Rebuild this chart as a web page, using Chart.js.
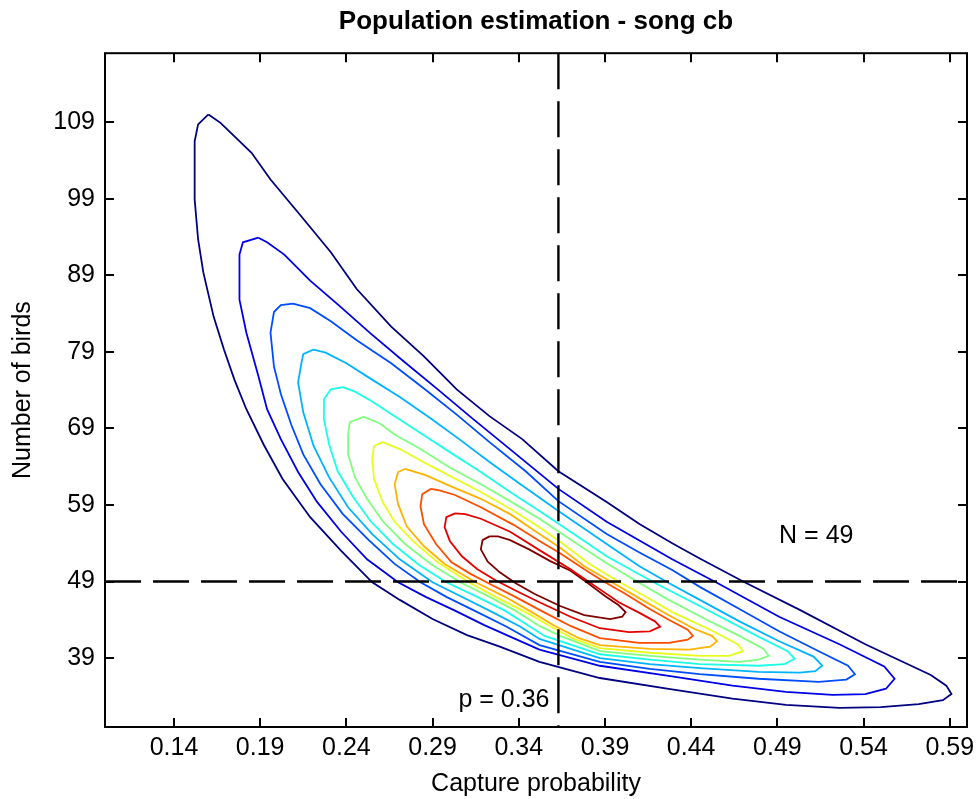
<!DOCTYPE html>
<html>
<head>
<meta charset="utf-8">
<title>Population estimation - song cb</title>
<script src="https://cdn.jsdelivr.net/npm/chart.js@4.4.0/dist/chart.umd.min.js"></script>
<style>
  html, body { margin: 0; padding: 0; background: #fff; }
</style>
</head>
<body>
<canvas id="chart" width="977" height="799"></canvas>
<script>
// axis limits and ticks
const pRange = [0.10, 0.60];
const nRange = [30, 118];
const pTicks = [0.14, 0.19, 0.24, 0.29, 0.34, 0.39, 0.44, 0.49, 0.54, 0.59];
const nTicks = [39, 49, 59, 69, 79, 89, 99, 109];

// point estimates
const pEstimate = 0.363;
const nEstimate = 49;

// where the two labels sit (data units)
const nLabelAt = [0.491, 54.9];
const pLabelAt = [0.305, 33.5];

// contour lines as [capture probability, number of birds], outermost first
const level1 = [[0.160,110.0],[0.154,108.7],[0.152,106.5],[0.152,98.9],[0.154,93.7],[0.157,89.4],[0.163,83.6],[0.169,79.3],[0.175,75.4],[0.182,71.5],[0.192,66.9],[0.203,62.4],[0.219,57.4],[0.237,53.0],[0.255,48.9],[0.271,46.6],[0.290,44.1],[0.310,42.0],[0.329,40.5],[0.352,38.5],[0.387,36.4],[0.426,35.0],[0.464,33.7],[0.495,32.9],[0.526,32.5],[0.550,32.6],[0.572,33.0],[0.586,33.5],[0.591,34.3],[0.588,35.4],[0.579,36.8],[0.541,40.8],[0.503,45.3],[0.471,48.9],[0.445,52.0],[0.429,54.0],[0.410,56.5],[0.391,59.4],[0.363,63.4],[0.342,67.6],[0.323,70.6],[0.304,74.1],[0.285,78.4],[0.266,82.3],[0.246,87.2],[0.231,92.0],[0.212,97.2],[0.196,101.5],[0.185,105.0],[0.167,108.9],[0.160,110.0]];
const level2 = [[0.189,93.9],[0.180,93.3],[0.178,91.7],[0.178,85.8],[0.182,81.5],[0.189,75.8],[0.194,71.5],[0.202,67.6],[0.212,63.3],[0.223,59.4],[0.237,55.5],[0.252,51.9],[0.270,48.9],[0.286,47.0],[0.303,45.2],[0.320,43.3],[0.335,41.8],[0.352,40.1],[0.387,38.0],[0.426,36.7],[0.464,35.4],[0.495,34.6],[0.522,34.2],[0.541,34.3],[0.553,35.0],[0.558,36.3],[0.552,37.9],[0.526,40.8],[0.491,44.4],[0.456,48.7],[0.429,51.9],[0.391,56.8],[0.363,61.1],[0.337,65.9],[0.312,70.5],[0.293,74.1],[0.273,77.8],[0.254,81.4],[0.235,85.2],[0.219,88.3],[0.204,91.7],[0.194,93.3],[0.189,93.9]];
const level3 = [[0.209,85.3],[0.202,85.1],[0.198,84.2],[0.196,81.5],[0.198,77.1],[0.202,73.5],[0.208,69.5],[0.215,65.6],[0.225,61.7],[0.238,57.8],[0.253,54.4],[0.268,51.3],[0.283,48.9],[0.298,47.0],[0.316,45.0],[0.333,43.1],[0.352,40.7],[0.387,38.5],[0.416,37.6],[0.445,36.9],[0.479,36.3],[0.514,35.9],[0.530,36.2],[0.535,36.9],[0.531,38.0],[0.514,39.9],[0.491,42.5],[0.468,45.4],[0.445,48.3],[0.429,50.5],[0.410,52.8],[0.391,55.2],[0.363,59.5],[0.344,63.4],[0.323,67.2],[0.304,70.8],[0.285,74.2],[0.266,77.5],[0.246,80.5],[0.231,83.0],[0.219,84.7],[0.209,85.3]];
const level4 = [[0.221,79.3],[0.215,78.7],[0.214,77.6],[0.212,75.0],[0.215,71.1],[0.221,66.7],[0.230,62.6],[0.241,58.7],[0.255,55.2],[0.271,51.9],[0.290,48.9],[0.306,47.1],[0.323,45.2],[0.341,43.1],[0.352,41.5],[0.387,39.0],[0.416,38.2],[0.445,37.7],[0.479,37.2],[0.503,37.1],[0.512,37.3],[0.516,38.0],[0.511,39.2],[0.491,41.2],[0.468,43.8],[0.445,46.6],[0.427,48.8],[0.410,51.0],[0.391,53.9],[0.363,58.2],[0.341,61.7],[0.323,64.6],[0.306,67.5],[0.289,70.3],[0.271,73.1],[0.254,75.5],[0.240,77.5],[0.228,78.9],[0.221,79.3]];
const level5 = [[0.238,74.4],[0.231,74.1],[0.227,72.8],[0.227,70.2],[0.230,66.9],[0.235,63.4],[0.244,60.0],[0.254,56.9],[0.267,53.9],[0.282,51.2],[0.298,48.9],[0.315,47.1],[0.332,45.2],[0.346,43.2],[0.355,41.9],[0.387,39.5],[0.416,38.8],[0.445,38.2],[0.479,38.0],[0.494,38.2],[0.500,38.9],[0.496,39.9],[0.479,41.8],[0.445,45.8],[0.419,48.8],[0.391,52.3],[0.372,55.2],[0.352,58.2],[0.335,60.7],[0.318,63.3],[0.300,65.9],[0.283,68.4],[0.268,70.6],[0.255,72.5],[0.245,73.8],[0.238,74.4]];
const level6 = [[0.250,70.5],[0.242,69.8],[0.241,68.2],[0.241,65.6],[0.245,62.6],[0.252,59.8],[0.261,56.9],[0.274,53.9],[0.289,51.3],[0.306,48.9],[0.323,47.0],[0.338,45.2],[0.352,43.2],[0.364,41.9],[0.387,39.9],[0.416,39.3],[0.445,38.8],[0.468,38.5],[0.479,38.8],[0.485,39.3],[0.482,40.2],[0.468,41.9],[0.449,44.0],[0.427,46.6],[0.410,48.8],[0.391,51.4],[0.372,54.2],[0.352,57.2],[0.335,59.5],[0.318,61.7],[0.300,63.9],[0.283,66.3],[0.268,68.2],[0.259,69.7],[0.250,70.5]];
const level7 = [[0.261,67.2],[0.256,66.7],[0.255,65.0],[0.256,62.4],[0.261,59.4],[0.268,56.8],[0.279,54.2],[0.293,51.5],[0.311,48.9],[0.329,46.7],[0.344,45.0],[0.358,43.2],[0.372,41.5],[0.387,40.3],[0.416,39.7],[0.445,39.3],[0.462,39.3],[0.470,39.9],[0.467,40.8],[0.451,42.7],[0.429,45.0],[0.413,47.1],[0.397,49.1],[0.381,51.3],[0.364,54.2],[0.352,56.1],[0.335,58.5],[0.318,60.7],[0.300,62.8],[0.283,64.8],[0.271,66.3],[0.261,67.2]];
const level8 = [[0.274,63.7],[0.270,63.3],[0.268,61.7],[0.270,59.1],[0.275,56.2],[0.285,53.6],[0.297,51.3],[0.315,48.9],[0.332,47.0],[0.346,45.2],[0.361,43.2],[0.375,41.6],[0.387,40.7],[0.416,40.2],[0.439,40.1],[0.451,40.5],[0.455,41.2],[0.452,41.9],[0.442,42.8],[0.427,44.6],[0.410,46.8],[0.394,48.9],[0.378,51.0],[0.364,53.4],[0.352,55.2],[0.335,57.8],[0.318,59.8],[0.300,61.5],[0.286,62.9],[0.274,63.7]];
const level9 = [[0.289,61.1],[0.284,60.4],[0.283,58.8],[0.285,56.5],[0.292,53.9],[0.301,51.5],[0.312,50.0],[0.323,48.7],[0.338,47.0],[0.352,45.3],[0.370,43.2],[0.387,41.6],[0.410,41.0],[0.427,41.0],[0.438,41.4],[0.441,41.9],[0.438,42.7],[0.427,44.0],[0.416,45.4],[0.401,47.5],[0.390,48.9],[0.378,50.6],[0.364,52.7],[0.352,54.3],[0.337,56.4],[0.318,58.7],[0.303,60.3],[0.294,60.9],[0.289,61.1]];
const level10 = [[0.303,57.9],[0.298,57.4],[0.297,56.1],[0.300,54.3],[0.307,52.3],[0.316,50.6],[0.327,49.1],[0.341,47.5],[0.352,46.3],[0.370,44.4],[0.387,42.9],[0.404,42.4],[0.416,42.5],[0.422,43.1],[0.419,43.8],[0.410,44.9],[0.398,46.3],[0.385,48.3],[0.381,48.9],[0.370,50.6],[0.352,53.1],[0.335,55.5],[0.318,57.2],[0.309,57.8],[0.303,57.9]];
const level11 = [[0.323,54.9],[0.319,54.4],[0.318,53.2],[0.322,51.6],[0.329,50.2],[0.338,48.8],[0.349,47.4],[0.364,45.8],[0.378,44.6],[0.393,44.1],[0.400,44.4],[0.402,45.0],[0.398,45.9],[0.390,47.1],[0.380,48.8],[0.370,50.4],[0.358,51.7],[0.346,53.2],[0.335,54.4],[0.328,54.9],[0.323,54.9]];

// jet colours, outermost level first
const levelColors = ['#000080', '#0000e6', '#004dff', '#00b3ff', '#1affe6', '#80ff80', '#e6ff1a', '#ffb300', '#ff4d00', '#e60000', '#800000'];

const FONT = '"Liberation Sans", Arial, Helvetica, sans-serif';
Chart.defaults.font.family = FONT;
Chart.defaults.color = '#000';

const contours = [level1, level2, level3, level4, level5, level6, level7, level8, level9, level10, level11];

const contourSets = contours.map((pts, i) => ({
    label: 'level ' + (i + 1),
    data: pts.map(([p, n]) => ({ x: p, y: n })),
    borderColor: levelColors[i],
    borderWidth: 1.8,
    showLine: true,
    pointRadius: 0,
    tension: 0,
    fill: false,
    order: 1
}));

const guideStyle = {
    borderColor: '#000',
    borderWidth: 2.4,
    borderDash: [36, 12],
    showLine: true,
    pointRadius: 0,
    fill: false,
    order: 0
};

const guideSets = [
    Object.assign({ label: 'p estimate', data: [{ x: pEstimate, y: nRange[1] }, { x: pEstimate, y: nRange[0] }] }, guideStyle),
    Object.assign({ label: 'N estimate', data: [{ x: pRange[0], y: nEstimate }, { x: pRange[1], y: nEstimate }] }, guideStyle)
];

// box, inward ticks on all four sides, and the two text labels
const framePlugin = {
    id: 'frame',
    afterDatasetsDraw(chart) {
        const { ctx, chartArea: a, scales: { x, y } } = chart;
        ctx.save();
        ctx.strokeStyle = '#000';
        ctx.lineWidth = 2;
        ctx.beginPath();
        pTicks.forEach(v => {
            const px = Math.round(x.getPixelForValue(v));
            ctx.moveTo(px, a.bottom); ctx.lineTo(px, a.bottom - 9);
            ctx.moveTo(px, a.top); ctx.lineTo(px, a.top + 9);
        });
        nTicks.forEach(v => {
            const py = Math.round(y.getPixelForValue(v));
            ctx.moveTo(a.left, py); ctx.lineTo(a.left + 9, py);
            ctx.moveTo(a.right, py); ctx.lineTo(a.right - 9, py);
        });
        ctx.stroke();
        ctx.strokeRect(a.left, a.top, a.right - a.left, a.bottom - a.top);

        ctx.fillStyle = '#000';
        ctx.font = '25px ' + FONT;
        ctx.textAlign = 'left';
        ctx.textBaseline = 'middle';
        ctx.fillText('N = ' + nEstimate, x.getPixelForValue(nLabelAt[0]), y.getPixelForValue(nLabelAt[1]));
        ctx.fillText('p = ' + pEstimate.toFixed(2), x.getPixelForValue(pLabelAt[0]), y.getPixelForValue(pLabelAt[1]));
        ctx.restore();
    }
};

new Chart(document.getElementById('chart'), {
    type: 'scatter',
    data: { datasets: guideSets.concat(contourSets) },
    options: {
        responsive: false,
        animation: false,
        layout: { padding: { left: 0, right: 10, top: 0, bottom: 0 } },
        plugins: {
            legend: { display: false },
            tooltip: { enabled: false },
            title: {
                display: true,
                text: 'Population estimation - song cb',
                fullSize: false,
                color: '#000',
                font: { size: 26, weight: 'bold' },
                padding: { top: 6, bottom: 16 }
            }
        },
        scales: {
            x: {
                type: 'linear',
                min: pRange[0],
                max: pRange[1],
                grid: { display: false, drawTicks: false },
                border: { display: false },
                afterBuildTicks: s => { s.ticks = pTicks.map(v => ({ value: v })); },
                afterFit: s => { s.height = 72; s.paddingLeft = 0; s.paddingRight = 0; },
                ticks: { font: { size: 25 }, padding: 6, autoSkip: false, maxRotation: 0, callback: v => v.toFixed(2) },
                title: { display: true, text: 'Capture probability', font: { size: 25 }, padding: { top: 0, bottom: 0 } }
            },
            y: {
                type: 'linear',
                min: nRange[0],
                max: nRange[1],
                grid: { display: false, drawTicks: false },
                border: { display: false },
                afterBuildTicks: s => { s.ticks = nTicks.map(v => ({ value: v })); },
                afterFit: s => { s.width = 105; s.paddingTop = 0; s.paddingBottom = 0; },
                ticks: { font: { size: 25 }, padding: 10, autoSkip: false, callback: v => String(v) },
                title: { display: true, text: 'Number of birds', font: { size: 25 }, padding: { top: 8, bottom: 0 } }
            }
        }
    },
    plugins: [framePlugin]
});
</script>
</body>
</html>
